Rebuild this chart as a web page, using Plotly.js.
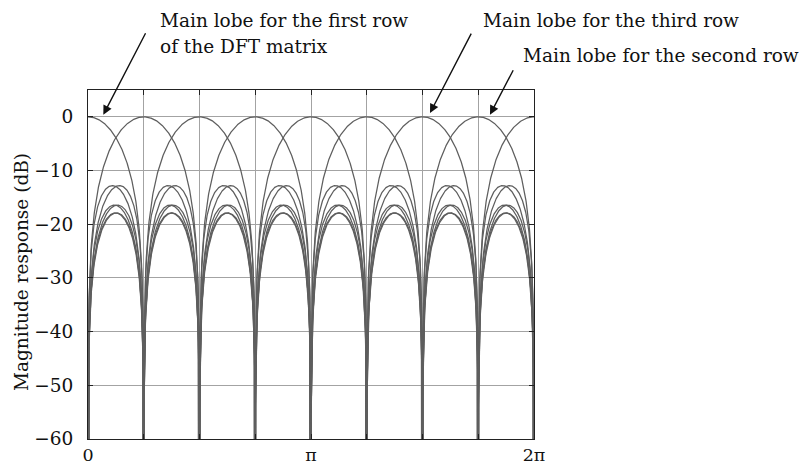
<!DOCTYPE html>
<html>
<head>
<meta charset="utf-8">
<script src="https://cdn.plot.ly/plotly-3.0.1.min.js"></script>
<style>
  html, body { margin: 0; padding: 0; background: #fff; }
  #chart { width: 800px; height: 466px; }
</style>
</head>
<body>
<div id="chart"></div>
<script>
// ---- Data -------------------------------------------------------------
// Size of the DFT matrix and the rows whose frequency responses are drawn
const dftSize = 8;
const rowIndices = [0, 1, 2, 3, 4, 5, 6, 7];

// Frequency axis (radians), sampled on the plotted interval [0, 2π]
const sampleCount = 1601;

// Axis ticks
const xTickPi = [0, 0.25, 0.5, 0.75, 1, 1.25, 1.5, 1.75, 2];   // multiples of π
const xTickText = ['0', '', '', '', 'π', '', '', '', '2π'];
const yTickVals = [-60, -50, -40, -30, -20, -10, 0];
const yTickText = ['−60', '−50', '−40', '−30', '−20', '−10', '0'];
const yTitle = 'Magnitude response (dB)';

// Annotation callouts
const calloutTexts = [
  'Main lobe for the first row',
  'of the DFT matrix',
  'Main lobe for the third row',
  'Main lobe for the second row'
];
// arrow tips (x in radians, y in dB)
const arrowTipX = [0.216, 4.818, 5.663];
const arrowTipY = [0.4, 0.7, 0.4];

// ---- Build traces: |H_k(e^{jw})| of each DFT row, in dB ----------------
const wGrid = [];
for (let i = 0; i < sampleCount; i++) wGrid.push(2 * Math.PI * i / (sampleCount - 1));

function rowResponseDb(k) {
  return wGrid.map(w => {
    let re = 0, im = 0;
    for (let n = 0; n < dftSize; n++) {
      // h[n] = exp(-j 2π k n / N);  H(w) = Σ h[n] exp(-j w n)
      const th = (2 * Math.PI * k / dftSize + w) * n;
      re += Math.cos(th);
      im -= Math.sin(th);
    }
    const mag = Math.sqrt(re * re + im * im) / dftSize;
    return Math.max(20 * Math.log10(Math.max(mag, 1e-12)), -200);
  });
}

const traces = rowIndices.map(k => ({
  type: 'scatter',
  mode: 'lines',
  x: wGrid,
  y: rowResponseDb(k),
  line: { color: '#5e5e5e', width: 1.25 },
  hoverinfo: 'skip'
}));

// ---- Layout ----------------------------------------------------------
const fontFam = 'DejaVu Serif, Liberation Serif, serif';
const FS = 18.5;
const annFont = { family: fontFam, size: FS, color: '#111' };
const PT = 90, PB = 439, PL = 88, PR = 534;   // plot-area pixel edges
const px = v => (v - PL) / (PR - PL);
const py = v => (PB - v) / (PB - PT);

const annotations = [
  // arrows
  { x: arrowTipX[0], y: arrowTipY[0], xref: 'x', yref: 'y', text: '', showarrow: true,
    ax: 43, ay: -83, arrowhead: 2, arrowsize: 1.3, arrowwidth: 1.4, arrowcolor: '#111' },
  { x: arrowTipX[1], y: arrowTipY[1], xref: 'x', yref: 'y', text: '', showarrow: true,
    ax: 42, ay: -81, arrowhead: 2, arrowsize: 1.3, arrowwidth: 1.4, arrowcolor: '#111' },
  { x: arrowTipX[2], y: arrowTipY[2], xref: 'x', yref: 'y', text: '', showarrow: true,
    ax: 24, ay: -46, arrowhead: 2, arrowsize: 1.3, arrowwidth: 1.4, arrowcolor: '#111' },
  // texts
  { x: px(158), y: py(21), xref: 'paper', yref: 'paper', text: calloutTexts[0],
    showarrow: false, xanchor: 'left', yanchor: 'middle', font: annFont },
  { x: px(158), y: py(46), xref: 'paper', yref: 'paper', text: calloutTexts[1],
    showarrow: false, xanchor: 'left', yanchor: 'middle', font: annFont },
  { x: px(481), y: py(21), xref: 'paper', yref: 'paper', text: calloutTexts[2],
    showarrow: false, xanchor: 'left', yanchor: 'middle', font: annFont },
  { x: px(521), y: py(56), xref: 'paper', yref: 'paper', text: calloutTexts[3],
    showarrow: false, xanchor: 'left', yanchor: 'middle', font: annFont },
  // y-axis title
  { x: px(21), y: py(272), xref: 'paper', yref: 'paper', text: yTitle,
    textangle: -90, showarrow: false, xanchor: 'center', yanchor: 'middle', font: annFont }
];

const layout = {
  width: 800,
  height: 466,
  margin: { l: PL, r: 800 - PR, t: PT, b: 466 - PB },
  paper_bgcolor: '#ffffff',
  plot_bgcolor: '#ffffff',
  font: { family: fontFam, size: FS, color: '#111' },
  showlegend: false,
  xaxis: {
    range: [0, 2 * Math.PI],
    tickmode: 'array',
    tickvals: xTickPi.map(v => v * Math.PI),
    ticktext: xTickText,
    ticks: 'inside',
    ticklen: 5,
    tickcolor: '#222',
    showline: true,
    linecolor: '#222',
    linewidth: 1,
    mirror: 'ticks',
    showgrid: true,
    gridcolor: '#a3a3a3',
    gridwidth: 1,
    zeroline: false,
    ticklabelstandoff: 0,
    tickfont: { family: fontFam, size: 17.5, color: '#111' }
  },
  yaxis: {
    range: [-60, 5],
    tickmode: 'array',
    tickvals: yTickVals,
    ticktext: yTickText,
    ticks: 'inside',
    ticklen: 5,
    tickcolor: '#222',
    showline: true,
    linecolor: '#222',
    linewidth: 1,
    mirror: 'ticks',
    showgrid: true,
    gridcolor: '#a3a3a3',
    gridwidth: 1,
    zeroline: false,
    ticklabelstandoff: 10,
    tickfont: { family: fontFam, size: FS, color: '#111' }
  },
  annotations: annotations
};

Plotly.newPlot('chart', traces, layout, { staticPlot: true, displayModeBar: false });
</script>
</body>
</html>
